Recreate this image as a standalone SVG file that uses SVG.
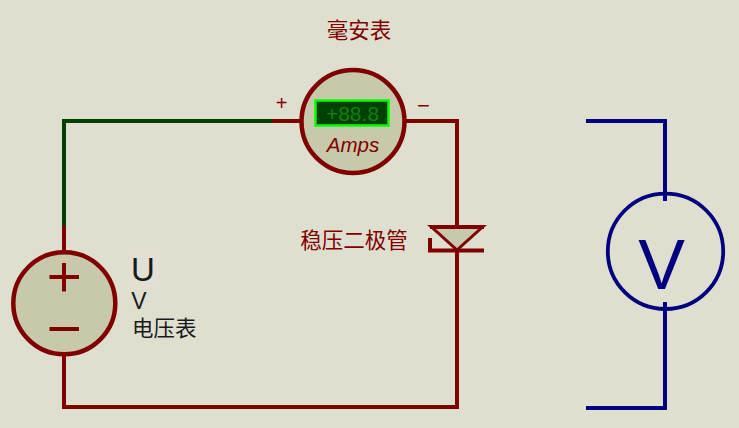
<svg xmlns="http://www.w3.org/2000/svg" width="739" height="428" viewBox="0 0 739 428">
<style>
.w{fill:none;stroke-width:4;stroke-linecap:butt;stroke-linejoin:miter}
.r{stroke:#800000}
.g{stroke:#004000}
.b{stroke:#000080}
.body{fill:#c8c8aa;stroke:#800000;stroke-width:4.5}
.cn{font-family:"Noto Sans CJK SC","Noto Sans CJK JP",sans-serif;font-size:21.5px}
.la{font-family:"Liberation Sans",sans-serif}
.dr{fill:#800000}
.k{fill:#1a1a1a}
</style>
<rect width="739" height="428" fill="#dfdfd0"/>
<g id="connectors">
<path class="w g" d="M272 121H64V226"/>
<path class="w r" d="M272 121H302"/>
<path class="w r" d="M64 226V252"/>
<path class="w r" d="M404 121H457V226"/>
<path class="w r" d="M457 250V407H64V354"/>
<path class="w b" d="M586 121H665V201"/>
<path class="w b" d="M665 302V408H586"/>
</g>
<g id="ammeter">
<circle class="body" cx="353" cy="121.5" r="51.5"/>
<rect x="315.5" y="100.5" width="73" height="25" fill="#004000" stroke="#00ff00" stroke-width="2.5"/>
<text class="la" x="352.5" y="121" text-anchor="middle" font-size="21" fill="#108010">+88.8</text>
<text class="la dr" x="353" y="152" text-anchor="middle" font-size="20.5" font-style="italic">Amps</text>
<text class="la dr" x="281.5" y="109.5" text-anchor="middle" font-size="20">+</text>
<text class="la dr" x="423.5" y="112.5" text-anchor="middle" font-size="22">−</text>
<text class="cn dr" x="359" y="38" text-anchor="middle">毫安表</text>
</g>
<g id="zener">
<path d="M431 226.5H483L457 250Z" fill="#c8c8aa" stroke="#800000" stroke-width="3"/>
<path class="w r" d="M430 227H484" stroke-width="5"/>
<path class="w r" d="M430 238V250.5H484"/>
<text class="cn dr" x="354" y="248" text-anchor="middle">稳压二极管</text>
</g>
<g id="source">
<circle class="body" cx="64.3" cy="303.3" r="51"/>
<path d="M49.5 277H79M64 263V291.5M49.5 329H79" stroke="#800000" stroke-width="4" fill="none"/>
<rect x="129" y="247" width="30" height="42" fill="#e3dfd3"/>
<text class="la k" x="143" y="281" text-anchor="middle" font-size="33">U</text>
<text class="la k" x="139" y="309" text-anchor="middle" font-size="23">V</text>
<text class="cn k" x="132" y="336">电压表</text>
</g>
<g id="voltmeter">
<circle cx="665.5" cy="251.3" r="57.7" fill="none" stroke="#000080" stroke-width="3.8"/>
<text class="la" x="661.5" y="289" text-anchor="middle" font-size="70" fill="#000080">V</text>
</g>
</svg>
